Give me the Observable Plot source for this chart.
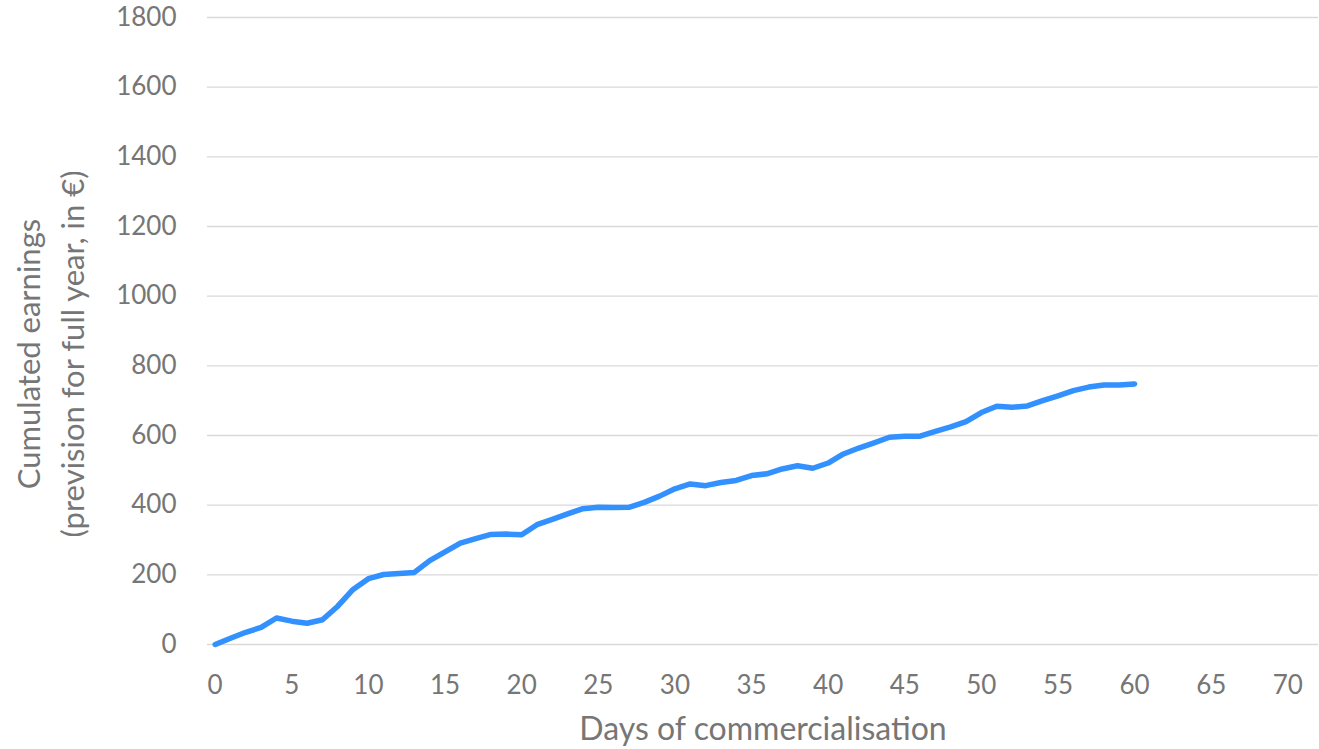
<!DOCTYPE html>
<html><head><meta charset="utf-8">
<script src="https://cdn.jsdelivr.net/npm/d3@7"></script>
<script src="https://cdn.jsdelivr.net/npm/@observablehq/plot@0.6"></script>
<style>
html,body{margin:0;padding:0;background:#fff;}
#chart{width:1319px;height:749px;}
</style></head>
<body><div id="chart"></div>
<script>
const days = d3.range(0, 61);
const earnings = [0,18,35,49,76,67,61,71,110,158,189,201,204,207,241,266,291,304,316,317,315,344,359,375,390,394,393,394,408,426,447,461,456,465,471,485,490,504,513,506,521,547,564,579,595,598,598,612,625,640,666,684,681,685,700,714,729,739,745,745,748];
const xTicks = d3.range(0, 71, 5);
const yTicks = d3.range(0, 1801, 200);
const xTitle = "Days of commercialisation";
const yTitle = "Cumulated earnings\n(prevision for full year, in €)";

const data = days.map((d, i) => ({day: d, value: earnings[i]}));
const font = "Lato, 'Open Sans', sans-serif";
const gray = "#767676";

const chart = Plot.plot({
  width: 1319,
  height: 749,
  marginLeft: 207,
  marginRight: 1,
  marginTop: 17,
  marginBottom: 105,
  style: {fontFamily: font, fontSize: "26px", color: gray, background: "#fff", overflow: "visible"},
  x: {domain: [-0.5, 72], ticks: xTicks, label: null},
  y: {domain: [0, 1800], ticks: yTicks, label: null},
  marks: [
    Plot.gridY(yTicks, {stroke: "#d9d9d9", strokeOpacity: 1, strokeWidth: 1.3}),
    Plot.axisX(xTicks, {tickSize: 0, tickPadding: 31, fontSize: 26, fill: gray, label: null, tickFormat: d => String(d)}),
    Plot.axisY(yTicks, {tickSize: 0, tickPadding: 31, fontSize: 26, fill: gray, label: null, tickFormat: d => String(d)}),
    Plot.text([xTitle], {frameAnchor: "bottom", dy: 95, fontSize: 32, fill: gray, lineAnchor: "bottom"}),
    Plot.text([yTitle], {frameAnchor: "left", textAnchor: "middle", dx: -160, dy: 23, rotate: -90, fontSize: 31, fill: gray, lineHeight: 1.42}),
    Plot.line(data, {x: "day", y: "value", stroke: "#3390FF", strokeWidth: 5.5, strokeLinejoin: "round", strokeLinecap: "round"})
  ]
});
document.getElementById("chart").appendChild(chart);
</script></body></html>
